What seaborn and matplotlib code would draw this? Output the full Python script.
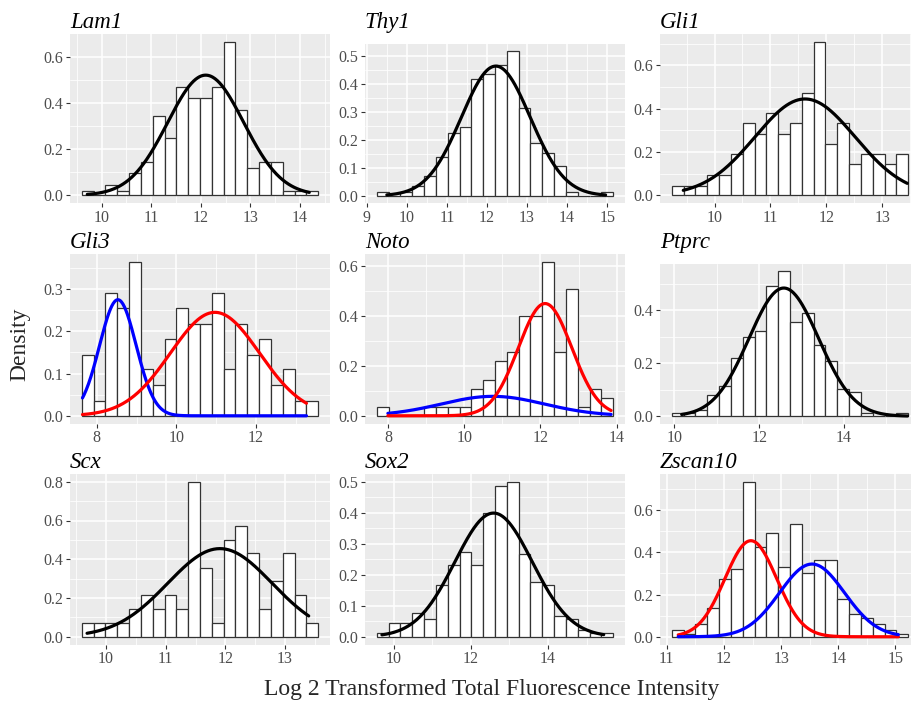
import numpy as np
import pandas as pd
import seaborn as sns
from matplotlib import pyplot as plt

genes = ["Lam1", "Thy1", "Gli1", "Gli3", "Noto", "Ptprc", "Scx", "Sox2", "Zscan10"]

# histogram span = left edge of first bar, right edge of last bar; heights are densities
# fits are fitted normals: (mean, sd, mixing weight), drawn over curve_x
lam1_span = [9.60, 14.37]
lam1_density = [0.02, 0.0, 0.045, 0.02, 0.095, 0.145, 0.345, 0.25, 0.47, 0.42,
                0.42, 0.47, 0.665, 0.37, 0.12, 0.145, 0.145, 0.02, 0.02, 0.02]
lam1_fit = [(12.10, 0.767, 1.0)]
lam1_curve_x = [9.71, 14.19]
lam1_xticks = [10, 11, 12, 13, 14]
lam1_yticks = [0.0, 0.2, 0.4, 0.6]

thy1_span = [9.25, 15.15]
thy1_density = [0.012, 0.0, 0.012, 0.035, 0.07, 0.14, 0.225, 0.245, 0.42, 0.435,
                0.47, 0.52, 0.315, 0.19, 0.155, 0.105, 0.015, 0.0, 0.0, 0.012]
thy1_fit = [(12.22, 0.858, 1.0)]
thy1_curve_x = [9.50, 14.96]
thy1_xticks = [9, 10, 11, 12, 13, 14, 15]
thy1_yticks = [0.0, 0.1, 0.2, 0.3, 0.4, 0.5]

gli1_span = [9.235, 13.467]
gli1_density = [0.045, 0.045, 0.045, 0.095, 0.095, 0.19, 0.335, 0.285, 0.38, 0.285,
                0.335, 0.475, 0.71, 0.235, 0.335, 0.145, 0.19, 0.19, 0.145, 0.19]
gli1_fit = [(11.62, 0.896, 1.0)]
gli1_curve_x = [9.44, 13.45]
gli1_xticks = [10, 11, 12, 13]
gli1_yticks = [0.0, 0.2, 0.4, 0.6]

gli3_span = [7.623, 13.565]
gli3_density = [0.145, 0.036, 0.29, 0.255, 0.365, 0.11, 0.073, 0.182, 0.255, 0.218,
                0.218, 0.29, 0.11, 0.218, 0.145, 0.182, 0.073, 0.11, 0.036, 0.036]
gli3_fit = [(8.53, 0.46, 0.317), (10.97, 1.12, 0.688)]
gli3_curve_x = [7.64, 13.27]
gli3_xticks = [8, 10, 12]
gli3_yticks = [0.0, 0.1, 0.2, 0.3]

noto_span = [7.71, 13.905]
noto_density = [0.036, 0.0, 0.0, 0.0, 0.036, 0.036, 0.036, 0.036, 0.109, 0.145,
                0.218, 0.255, 0.4, 0.4, 0.618, 0.255, 0.509, 0.036, 0.109, 0.073]
noto_fit = [(10.75, 1.35, 0.264), (12.12, 0.70, 0.79)]
noto_curve_x = [8.0, 13.85]
noto_xticks = [8, 10, 12, 14]
noto_yticks = [0.0, 0.2, 0.4, 0.6]

ptprc_span = [9.937, 15.515]
ptprc_density = [0.011, 0.011, 0.023, 0.08, 0.114, 0.22, 0.30, 0.323, 0.494, 0.55,
                 0.357, 0.39, 0.27, 0.21, 0.103, 0.092, 0.011, 0.0, 0.0, 0.011]
ptprc_fit = [(12.58, 0.823, 1.0)]
ptprc_curve_x = [10.17, 15.50]
ptprc_xticks = [10, 12, 14]
ptprc_yticks = [0.0, 0.2, 0.4]

scx_span = [9.592, 13.559]
scx_density = [0.072, 0.072, 0.072, 0.072, 0.143, 0.215, 0.143, 0.215, 0.143, 0.8,
               0.357, 0.072, 0.5, 0.573, 0.43, 0.143, 0.286, 0.43, 0.215, 0.072]
scx_fit = [(11.91, 0.877, 1.0)]
scx_curve_x = [9.68, 13.40]
scx_xticks = [10, 11, 12, 13]
scx_yticks = [0.0, 0.2, 0.4, 0.6, 0.8]

sox2_span = [9.568, 15.685]
sox2_density = [0.011, 0.045, 0.045, 0.078, 0.056, 0.167, 0.233, 0.275, 0.233, 0.4,
                0.485, 0.5, 0.267, 0.178, 0.167, 0.067, 0.056, 0.022, 0.011, 0.011]
sox2_fit = [(12.59, 1.0, 1.0)]
sox2_curve_x = [9.70, 15.44]
sox2_xticks = [10, 12, 14]
sox2_yticks = [0.0, 0.1, 0.2, 0.3, 0.4, 0.5]

zscan10_span = [11.088, 15.222]
zscan10_density = [0.03, 0.015, 0.06, 0.136, 0.273, 0.32, 0.735, 0.424, 0.49, 0.333,
                   0.535, 0.30, 0.364, 0.364, 0.18, 0.106, 0.09, 0.06, 0.03, 0.015]
zscan10_fit = [(12.47, 0.452, 0.516), (13.54, 0.567, 0.49)]
zscan10_curve_x = [11.20, 15.05]
zscan10_xticks = [11, 12, 13, 14, 15]
zscan10_yticks = [0.0, 0.2, 0.4, 0.6]

panels = [
    (lam1_span, lam1_density, lam1_fit, lam1_curve_x, lam1_xticks, lam1_yticks),
    (thy1_span, thy1_density, thy1_fit, thy1_curve_x, thy1_xticks, thy1_yticks),
    (gli1_span, gli1_density, gli1_fit, gli1_curve_x, gli1_xticks, gli1_yticks),
    (gli3_span, gli3_density, gli3_fit, gli3_curve_x, gli3_xticks, gli3_yticks),
    (noto_span, noto_density, noto_fit, noto_curve_x, noto_xticks, noto_yticks),
    (ptprc_span, ptprc_density, ptprc_fit, ptprc_curve_x, ptprc_xticks, ptprc_yticks),
    (scx_span, scx_density, scx_fit, scx_curve_x, scx_xticks, scx_yticks),
    (sox2_span, sox2_density, sox2_fit, sox2_curve_x, sox2_xticks, sox2_yticks),
    (zscan10_span, zscan10_density, zscan10_fit, zscan10_curve_x, zscan10_xticks, zscan10_yticks),
]

# line colours for each fitted component
fit_colors = {"Gli3": ["#0000FF", "#FF0000"],
              "Noto": ["#0000FF", "#FF0000"],
              "Zscan10": ["#FF0000", "#0000FF"]}

sns.set_theme(style="darkgrid", rc={"axes.facecolor": "#EBEBEB", "grid.color": "white"})
plt.rcParams["font.family"] = ["Liberation Serif", "DejaVu Serif"]

W, H = 912, 704
fig = plt.figure(figsize=(W / 100, H / 100), dpi=100)
fig.patch.set_facecolor("white")

row_bottom = [203, 423.5, 644.5]
row_top = [34, 254, 474]
title_base = [27.7, 248, 467.7]

for i, (span, dens, fit, cx, xt, yt) in enumerate(panels):
    gene = genes[i]
    r, c = divmod(i, 3)
    left = 70 + 295 * c
    top = row_top[r] + (9.5 if gene in ("Thy1", "Ptprc") else 0)
    bottom = row_bottom[r]
    ax = fig.add_axes([left / W, 1 - bottom / H, 260 / W, (bottom - top) / H])

    edges = np.linspace(span[0], span[1], len(dens) + 1)
    hist = pd.DataFrame({"x": (edges[:-1] + edges[1:]) / 2, "density": dens})
    sns.histplot(data=hist, x="x", weights="density", bins=list(edges), stat="count",
                 color="white", edgecolor="#333333", linewidth=0.9, alpha=1, ax=ax)

    xs = np.linspace(cx[0], cx[1], 300)
    cols = fit_colors.get(gene, ["black"])
    ymax = max(dens)
    for (m, s, w), col in zip(fit, cols):
        ys = w * np.exp(-0.5 * ((xs - m) / s) ** 2) / (s * np.sqrt(2 * np.pi))
        ymax = max(ymax, ys.max())
        sns.lineplot(x=xs, y=ys, color=col, lw=2.3, ax=ax)

    xspan = span[1] - span[0]
    ax.set_xticks(xt)
    ax.set_xticklabels([str(v) for v in xt])
    ax.set_yticks(yt)
    ax.set_yticklabels(["%.1f" % v for v in yt])
    xstep = xt[1] - xt[0]
    ystep = yt[1] - yt[0]
    ax.set_xticks(np.arange(xt[0] - 3.5 * xstep, xt[-1] + 3.5 * xstep, xstep), minor=True)
    ax.set_yticks(np.arange(yt[0] - 0.5 * ystep, yt[-1] + 3.5 * ystep, ystep), minor=True)
    ax.set_xlim(span[0] - 0.05 * xspan, span[1] + 0.05 * xspan)
    ax.set_ylim(-0.05 * ymax, 1.05 * ymax)

    ax.set_axisbelow(True)
    ax.grid(which="major", color="white", lw=1.1)
    ax.grid(which="minor", color="white", lw=0.55)
    ax.tick_params(which="major", bottom=True, left=True, length=3, width=0.8,
                   color="#333333", labelsize=11.5, labelcolor="#4D4D4D", pad=2)
    ax.tick_params(which="minor", length=0)
    for sp in ax.spines.values():
        sp.set_visible(False)
    ax.set_xlabel("")
    ax.set_ylabel("")

    fig.text(left / W, 1 - title_base[r] / H, gene, fontsize=16.5, style="italic",
             ha="left", va="baseline", color="black")

fig.text(20 / W, 1 - 344 / H, "Density", rotation=90, fontsize=17, ha="center", va="center")
fig.text(492 / W, 1 - 690 / H, "Log 2 Transformed Total Fluorescence Intensity",
         fontsize=17, ha="center", va="center")

fig.savefig("out.png", dpi=100)
